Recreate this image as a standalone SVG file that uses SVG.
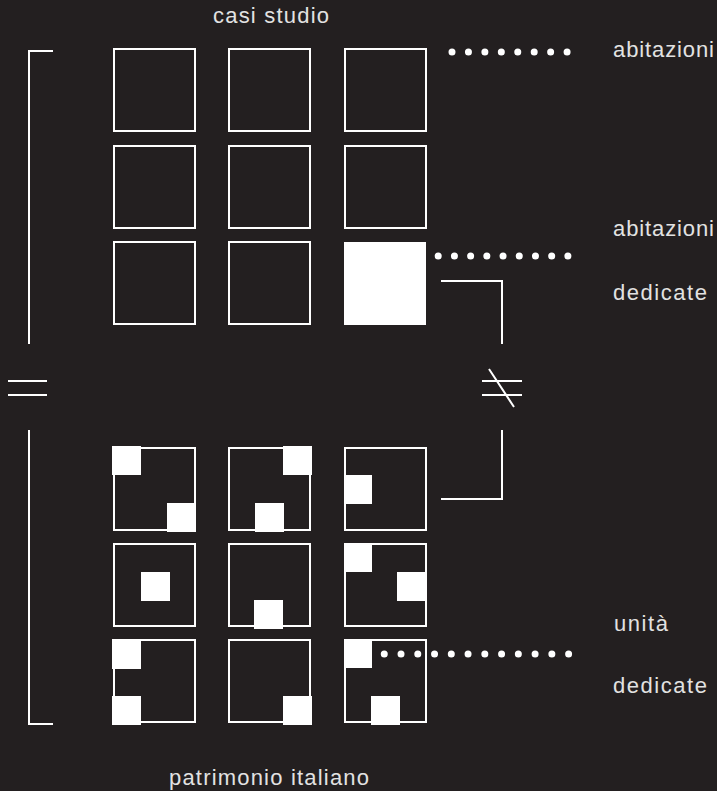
<svg xmlns="http://www.w3.org/2000/svg" width="717" height="791" viewBox="0 0 717 791">
  <style>
    .box { fill: none; stroke: #ffffff; stroke-width: 2; }
    .fill { fill: #ffffff; stroke: none; }
    .ln { fill: none; stroke: #ffffff; stroke-width: 2; }
    .dot { fill: none; stroke: #ffffff; stroke-width: 7; stroke-linecap: round; }
    .lbl { font-family: "Liberation Sans", Arial, sans-serif; font-size: 22px; fill: #e2e2e2; }
  </style>
  <rect x="0" y="0" width="717" height="791" fill="#231f20"/>

  <g id="connectors">
    <path class="ln" d="M53,51 H29 V344"/>
    <path class="ln" d="M29,430 V724 H53"/>
    <path class="ln" d="M8,381 H47 M8,395 H47"/>
    <path class="ln" d="M441,281 H502 V344"/>
    <path class="ln" d="M502,430 V499 H441"/>
    <path class="ln" d="M482,381 H522 M482,395 H522 M489,369 L514,407"/>
    <line class="dot" x1="452" y1="52" x2="567.1" y2="52" stroke-dasharray="0 16.44"/>
    <line class="dot" x1="422" y1="256" x2="567.9" y2="256" stroke-dasharray="0 16.21"/>
    <line class="dot" x1="367.5" y1="654" x2="568.9" y2="654" stroke-dasharray="0 16.76"/>
  </g>

  <g id="top-grid">
    <g id="c11"><rect class="box" x="114" y="49" width="81" height="82"/></g>
    <g id="c12"><rect class="box" x="229" y="49" width="81" height="82"/></g>
    <g id="c13"><rect class="box" x="345" y="49" width="81" height="82"/></g>
    <g id="c21"><rect class="box" x="114" y="146" width="81" height="82"/></g>
    <g id="c22"><rect class="box" x="229" y="146" width="81" height="82"/></g>
    <g id="c23"><rect class="box" x="345" y="146" width="81" height="82"/></g>
    <g id="c31"><rect class="box" x="114" y="242" width="81" height="82"/></g>
    <g id="c32"><rect class="box" x="229" y="242" width="81" height="82"/></g>
    <g id="c33"><rect class="fill" x="344" y="242" width="82" height="83"/></g>
  </g>

  <g id="bottom-grid">
    <g id="p11"><rect class="box" x="114" y="448" width="81" height="82"/>
      <rect class="fill" x="112" y="446" width="29" height="29"/>
      <rect class="fill" x="167" y="503" width="29" height="29"/></g>
    <g id="p12"><rect class="box" x="229" y="448" width="81" height="82"/>
      <rect class="fill" x="283" y="446" width="29" height="29"/>
      <rect class="fill" x="255" y="503" width="29" height="29"/></g>
    <g id="p13"><rect class="box" x="345" y="448" width="81" height="82"/>
      <rect class="fill" x="344" y="475" width="28" height="29"/></g>
    <g id="p21"><rect class="box" x="114" y="544" width="81" height="82"/>
      <rect class="fill" x="141" y="572" width="29" height="29"/></g>
    <g id="p22"><rect class="box" x="229" y="544" width="81" height="82"/>
      <rect class="fill" x="254" y="600" width="29" height="29"/></g>
    <g id="p23"><rect class="box" x="345" y="544" width="81" height="82"/>
      <rect class="fill" x="344" y="543" width="28" height="29"/>
      <rect class="fill" x="397" y="572" width="29" height="29"/></g>
    <g id="p31"><rect class="box" x="114" y="640" width="81" height="82"/>
      <rect class="fill" x="112" y="639" width="29" height="30"/>
      <rect class="fill" x="112" y="696" width="29" height="29"/></g>
    <g id="p32"><rect class="box" x="229" y="640" width="81" height="82"/>
      <rect class="fill" x="283" y="696" width="29" height="29"/></g>
    <g id="p33"><rect class="box" x="345" y="640" width="81" height="82"/>
      <rect class="fill" x="344" y="639" width="28" height="29"/>
      <rect class="fill" x="371" y="696" width="29" height="29"/></g>
  </g>

  <g id="labels">
    <g id="t-casi"><text class="lbl" x="213" y="23" textLength="116" lengthAdjust="spacing">casi studio</text></g>
    <g id="t-patr"><text class="lbl" x="169" y="785" textLength="200" lengthAdjust="spacing">patrimonio italiano</text></g>
    <g id="t-abit1"><text class="lbl" x="613" y="57" textLength="101" lengthAdjust="spacing">abitazioni</text></g>
    <g id="t-abit2"><text class="lbl" x="613" y="236" textLength="101" lengthAdjust="spacing">abitazioni</text></g>
    <g id="t-ded1"><text class="lbl" x="613" y="300" textLength="94" lengthAdjust="spacing">dedicate</text></g>
    <g id="t-unita"><text class="lbl" x="614" y="631" textLength="54" lengthAdjust="spacing">unità</text></g>
    <g id="t-ded2"><text class="lbl" x="613" y="693" textLength="94" lengthAdjust="spacing">dedicate</text></g>
  </g>
</svg>
